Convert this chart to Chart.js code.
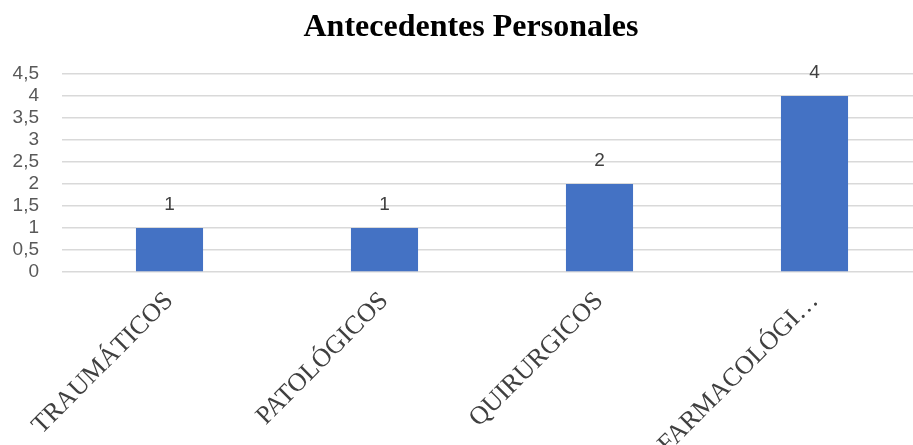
<!DOCTYPE html>
<html>
<head>
<meta charset="utf-8">
<script src="https://cdn.jsdelivr.net/npm/chart.js"></script>
<style>
  html, body { margin: 0; padding: 0; background: #fff; overflow: hidden; }
  #wrap { width: 922px; height: 445px; }
</style>
</head>
<body>
<div id="wrap"><canvas id="chart"></canvas></div>
<script>
// datos del gráfico
const categorias = ['TRAUMÁTICOS', 'PATOLÓGICOS', 'QUIRURGICOS', 'FARMACOLÓGI…'];
const valores = [1, 1, 2, 4];
const titulo = 'Antecedentes Personales';

// titulo centrado como en el original (un poco a la derecha del centro del canvas)
const tituloPlugin = {
  id: 'tituloPlugin',
  afterDraw(chart) {
    const ctx = chart.ctx;
    ctx.save();
    ctx.font = 'bold 32px "Liberation Serif", "Times New Roman", serif';
    ctx.fillStyle = '#000';
    ctx.textAlign = 'center';
    ctx.textBaseline = 'alphabetic';
    ctx.fillText(titulo, 471, 36);
    ctx.restore();
  }
};

// etiquetas de valor encima de cada barra
const etiquetasPlugin = {
  id: 'etiquetasPlugin',
  afterDatasetsDraw(chart) {
    const ctx = chart.ctx;
    const meta = chart.getDatasetMeta(0);
    ctx.save();
    ctx.font = '19px "Liberation Sans", Arial, sans-serif';
    ctx.fillStyle = '#404040';
    ctx.textAlign = 'center';
    ctx.textBaseline = 'bottom';
    meta.data.forEach((bar, i) => {
      ctx.fillText(String(valores[i]), bar.x, bar.y - 14);
    });
    ctx.restore();
  }
};

new Chart(document.getElementById('chart'), {
  type: 'bar',
  data: {
    labels: categorias,
    datasets: [{
      data: valores,
      backgroundColor: '#4472C4',
      borderWidth: 0,
      barPercentage: 0.312,
      categoryPercentage: 1.0
    }]
  },
  options: {
    responsive: true,
    maintainAspectRatio: false,
    animation: false,
    layout: { padding: { top: 74, right: 0, left: 0, bottom: 0 } },
    plugins: {
      legend: { display: false },
      title: { display: false },
      tooltip: { enabled: false }
    },
    scales: {
      x: {
        grid: { display: false, drawTicks: false },
        border: { display: false },
        ticks: {
          color: '#404040',
          font: { family: '"Liberation Serif", "Times New Roman", serif', size: 26 },
          minRotation: 45,
          maxRotation: 45,
          autoSkip: false,
          padding: 14
        },
        afterFit: (scale) => { scale.height = 173; }
      },
      y: {
        min: 0,
        max: 4.5,
        grid: { color: '#d9d9d9', lineWidth: 1.5, drawTicks: false },
        border: { display: false },
        ticks: {
          stepSize: 0.5,
          autoSkip: false,
          color: '#595959',
          font: { family: '"Liberation Sans", Arial, sans-serif', size: 19 },
          padding: 23,
          callback: (v) => String(v).replace('.', ',')
        },
        afterFit: (scale) => { scale.width = 62; }
      }
    }
  },
  plugins: [tituloPlugin, etiquetasPlugin]
});
</script>
</body>
</html>
